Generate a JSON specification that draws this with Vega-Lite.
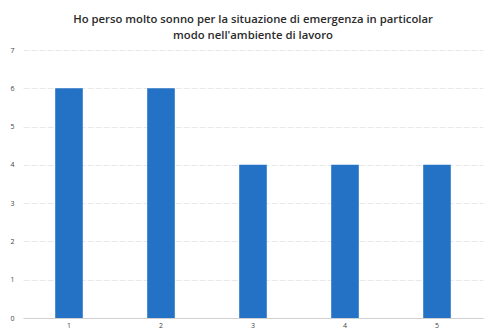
{
  "$schema": "https://vega.github.io/schema/vega-lite/v6.json",
  "width": 460,
  "height": 268,
  "autosize": "none",
  "padding": {"left": 23, "top": 50, "right": 8, "bottom": 11},
  "background": "white",
  "title": {
    "text": ["Ho perso molto sonno per la situazione di emergenza in particolar", "modo nell'ambiente di lavoro"],
    "font": "Open Sans",
    "fontSize": 11.3,
    "fontWeight": 600,
    "color": "#2b2b2b",
    "anchor": "middle",
    "offset": 5,
    "lineHeight": 16
  },
  "data": {"values": [
    {"category": "1", "value": 6},
    {"category": "2", "value": 6},
    {"category": "3", "value": 4},
    {"category": "4", "value": 4},
    {"category": "5", "value": 4}
  ]},
  "mark": {"type": "bar", "color": "#2472c6"},
  "encoding": {
    "x": {
      "field": "category", "type": "ordinal", "title": null,
      "scale": {"paddingInner": 0.7, "paddingOuter": 0.35},
      "axis": {"labelAngle": 0, "labelFontSize": 7, "labelColor": "#444", "domainColor": "#d0d0d0", "ticks": false, "labelPadding": 3}
    },
    "y": {
      "field": "value", "type": "quantitative", "title": null,
      "scale": {"domain": [0, 7]},
      "axis": {"values": [0,1,2,3,4,5,6,7], "labelFontSize": 7, "labelColor": "#444", "domain": false, "ticks": false, "labelPadding": 9, "gridColor": "#e8e8e8", "gridDash": [6, 2]}
    }
  },
  "config": {"view": {"stroke": null}, "font": "Open Sans"}
}
